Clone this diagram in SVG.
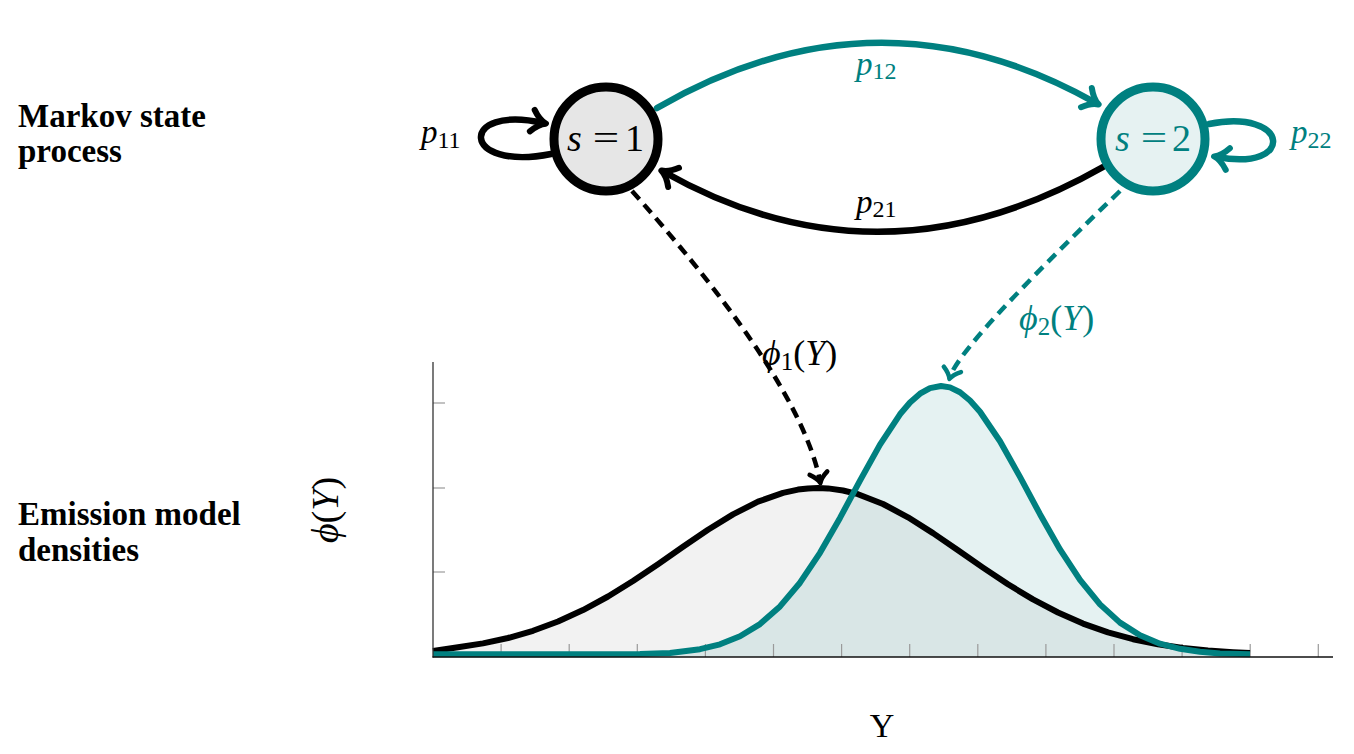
<svg xmlns="http://www.w3.org/2000/svg" width="1354" height="754" viewBox="0 0 1354 754">
<style>
.lbl{font-family:"Liberation Serif","Times New Roman",serif;font-weight:bold;font-size:33px;fill:#000}
.math{font-family:"Liberation Serif","DejaVu Serif",serif;font-style:italic}
.rm{font-style:normal}
.tealt{fill:#008080}
.blkt{fill:#000}
.edge{fill:none;stroke-width:6.5;stroke-linecap:round}
.dash{fill:none;stroke-width:4.5;stroke-dasharray:11 7}
.tick{stroke:#9a9a9a;stroke-width:1.2}
</style>
<defs>
<marker id="arrK" markerUnits="userSpaceOnUse" orient="auto" overflow="visible" markerWidth="30" markerHeight="30" refX="0" refY="0">
<path d="M -11,-11 Q -4,-2 3,0 Q -4,2 -11,11" fill="none" stroke="#000" stroke-width="6" stroke-linecap="round" stroke-linejoin="round"/>
</marker>
<marker id="arrT" markerUnits="userSpaceOnUse" orient="auto" overflow="visible" markerWidth="30" markerHeight="30" refX="0" refY="0">
<path d="M -11,-11 Q -4,-2 3,0 Q -4,2 -11,11" fill="none" stroke="#008080" stroke-width="6" stroke-linecap="round" stroke-linejoin="round"/>
</marker>
<marker id="arrKd" markerUnits="userSpaceOnUse" orient="auto" overflow="visible" markerWidth="30" markerHeight="30" refX="0" refY="0">
<path d="M -8,-9 Q -3,-2 2,0 Q -3,2 -8,9" fill="none" stroke="#000" stroke-width="4.5" stroke-linecap="round" stroke-linejoin="round"/>
</marker>
<marker id="arrTd" markerUnits="userSpaceOnUse" orient="auto" overflow="visible" markerWidth="30" markerHeight="30" refX="0" refY="0">
<path d="M -8,-9 Q -3,-2 2,0 Q -3,2 -8,9" fill="none" stroke="#008080" stroke-width="4.5" stroke-linecap="round" stroke-linejoin="round"/>
</marker>
</defs>

<g id="row-labels">
<text class="lbl" x="18" y="127">Markov state</text>
<text class="lbl" x="18" y="162">process</text>
<text class="lbl" x="18" y="525">Emission model</text>
<text class="lbl" x="18" y="561">densities</text>
</g>

<g id="plot">
<path d="M433,657 L433,651 458,647.3 483,643.4 508,638.0 533,630.8 558,621.5 583,610.1 608,596.5 633,581.0 658,564.2 683,546.7 708,529.8 733,514.4 758,501.7 783,492.9 798,489.6 808,488.4 818,488 828,488.4 843,490.5 858,494.2 883,504.0 908,517.3 933,533.1 958,550.3 983,567.6 1008,584.3 1033,599.4 1058,612.5 1083,623.6 1108,632.4 1133,639.2 1158,644.3 1183,648.0 1208,650.6 1233,652.2 1250,653.0 L1250,657 Z" fill="#000" fill-opacity="0.05"/>
<path d="M433,657 L433,655 600,655 640,654.3 670,652.9 700,649.2 720,644.3 740,636.3 760,624.1 780,606.4 800,582.7 820,552.8 840,517.9 860,480.6 880,444.6 900,414.3 910,402.5 920,393.7 930,388.1 941,386 950,387.4 960,392.3 970,400.5 980,411.7 1000,441.3 1020,476.9 1040,514.2 1060,549.4 1080,579.9 1100,604.4 1120,622.6 1140,635.3 1160,643.7 1180,648.8 1200,651.8 1220,653.4 1250,654.5 L1250,657 Z" fill="#008080" fill-opacity="0.1"/>
<g id="ticks">
<line class="tick" x1="433" y1="403" x2="445" y2="403"/>
<line class="tick" x1="433" y1="488" x2="445" y2="488"/>
<line class="tick" x1="433" y1="572" x2="445" y2="572"/>
<line class="tick" x1="501.1" y1="657" x2="501.1" y2="644"/>
<line class="tick" x1="569.2" y1="657" x2="569.2" y2="644"/>
<line class="tick" x1="637.3" y1="657" x2="637.3" y2="644"/>
<line class="tick" x1="705.4" y1="657" x2="705.4" y2="644"/>
<line class="tick" x1="773.5" y1="657" x2="773.5" y2="644"/>
<line class="tick" x1="841.6" y1="657" x2="841.6" y2="644"/>
<line class="tick" x1="909.7" y1="657" x2="909.7" y2="644"/>
<line class="tick" x1="977.8" y1="657" x2="977.8" y2="644"/>
<line class="tick" x1="1045.9" y1="657" x2="1045.9" y2="644"/>
<line class="tick" x1="1114" y1="657" x2="1114" y2="644"/>
<line class="tick" x1="1182.1" y1="657" x2="1182.1" y2="644"/>
<line class="tick" x1="1250.2" y1="657" x2="1250.2" y2="644"/>
<line class="tick" x1="1318.3" y1="657" x2="1318.3" y2="644"/>
</g>
<polyline fill="none" stroke="#000" stroke-width="6" stroke-linejoin="round" points="433,651 458,647.3 483,643.4 508,638.0 533,630.8 558,621.5 583,610.1 608,596.5 633,581.0 658,564.2 683,546.7 708,529.8 733,514.4 758,501.7 783,492.9 798,489.6 808,488.4 818,488 828,488.4 843,490.5 858,494.2 883,504.0 908,517.3 933,533.1 958,550.3 983,567.6 1008,584.3 1033,599.4 1058,612.5 1083,623.6 1108,632.4 1133,639.2 1158,644.3 1183,648.0 1208,650.6 1233,652.2 1250,653.0"/>
<polyline fill="none" stroke="#008080" stroke-width="6" stroke-linejoin="round" points="433,654.3 600,654.3 640,654 670,652.9 700,649.2 720,644.3 740,636.3 760,624.1 780,606.4 800,582.7 820,552.8 840,517.9 860,480.6 880,444.6 900,414.3 910,402.5 920,393.7 930,388.1 941,386 950,387.4 960,392.3 970,400.5 980,411.7 1000,441.3 1020,476.9 1040,514.2 1060,549.4 1080,579.9 1100,604.4 1120,622.6 1140,635.3 1160,643.7 1180,648.8 1200,651.8 1220,653.4 1250,654.3"/>
<line x1="433" y1="362" x2="433" y2="657.5" stroke="#333" stroke-width="1.3"/>
<line x1="432.5" y1="657" x2="1333" y2="657" stroke="#111" stroke-width="1.6"/>
<text class="math" font-size="38" transform="translate(338,510) rotate(-90)" text-anchor="middle">ϕ<tspan class="rm">(</tspan>Y<tspan class="rm">)</tspan></text>
<text x="882" y="737" text-anchor="middle" font-family="Liberation Serif, Times New Roman, serif" font-size="34">Y</text>
</g>

<g id="connectors">
<path id="e11" class="edge" stroke="#000" marker-end="url(#arrK)" d="M551,154 C460,172 458,104 543,123"/>
<path id="e12" class="edge" stroke="#008080" marker-end="url(#arrT)" d="M657,108 Q878,-20 1096,103"/>
<path id="e21" class="edge" stroke="#000" marker-end="url(#arrK)" d="M1103,167 Q880,294 664,172"/>
<path id="e22" class="edge" stroke="#008080" marker-end="url(#arrT)" d="M1209,124 C1290,108 1296,172 1217,157"/>
<path id="d1" class="dash" stroke="#000" marker-end="url(#arrKd)" d="M632,191 Q800,380 820,481"/>
<path id="d2" class="dash" stroke="#008080" marker-end="url(#arrTd)" d="M1120,191 Q960,345 950,377"/>
</g>

<g id="edge-labels">
<text class="math blkt" x="421" y="143" font-size="33">p<tspan class="rm" font-size="24" dy="5">11</tspan></text>
<text class="math tealt" x="856" y="75" font-size="33">p<tspan class="rm" font-size="24" dy="4">12</tspan></text>
<text class="math blkt" x="856" y="213" font-size="33">p<tspan class="rm" font-size="24" dy="4">21</tspan></text>
<text class="math tealt" x="1291" y="143" font-size="33">p<tspan class="rm" font-size="24" dy="5">22</tspan></text>
<text class="math blkt" x="762" y="365" font-size="36">ϕ<tspan class="rm" font-size="25" dy="5">1</tspan><tspan class="rm" dy="-5">(</tspan>Y<tspan class="rm">)</tspan></text>
<text class="math tealt" x="1019" y="330" font-size="36">ϕ<tspan class="rm" font-size="25" dy="5">2</tspan><tspan class="rm" dy="-5">(</tspan>Y<tspan class="rm">)</tspan></text>
</g>

<g id="node-s1">
<circle cx="606" cy="139" r="52" fill="#e6e6e6" stroke="#000" stroke-width="9"/>
<text class="math" font-size="38" x="567" y="151">s</text>
<text class="math rm" font-size="36" transform="translate(606,150) scale(1.3,1)" text-anchor="middle">=</text>
<text class="math rm" font-size="38" x="625" y="151">1</text>
</g>

<g id="node-s2">
<circle cx="1153" cy="139" r="52" fill="#e6f2f2" stroke="#008080" stroke-width="9"/>
<text class="math tealt" font-size="38" x="1115" y="151">s</text>
<text class="math rm tealt" font-size="36" transform="translate(1154,150) scale(1.3,1)" text-anchor="middle">=</text>
<text class="math rm tealt" font-size="38" x="1172" y="151">2</text>
</g>
</svg>
